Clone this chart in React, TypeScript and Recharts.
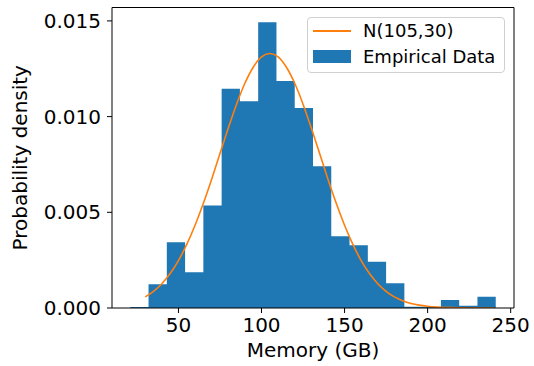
import { ComposedChart, Area, Line, XAxis, YAxis, Legend, ReferenceLine } from "recharts";

// histogram: 20 bins, edges
const binEdges = [21, 32, 43, 54, 65, 76, 87, 98, 109, 120, 131, 142, 153, 164, 175, 186, 197, 208, 219, 230, 241];
const binDensity = [
  0.00005, 0.00124, 0.00343, 0.00187, 0.00535, 0.01146, 0.0108, 0.01493, 0.01186, 0.01045,
  0.0074, 0.00375, 0.00328, 0.00242, 0.00129, 0.00007, 0.00006, 0.00042, 0.00012, 0.00059,
];

// fitted curve N(105,30), sampled every 5 GB
const curveX = [
  30, 35, 40, 45, 50, 55, 60, 65, 70, 75, 80, 85, 90, 95, 100, 105, 110, 115, 120, 125, 130, 135,
  140, 145, 150, 155, 160, 165, 170, 175, 180, 185, 190, 195, 200, 205, 210, 215, 220, 225, 230, 235, 240,
];
const curveY = [
  0.00058, 0.00087, 0.00127, 0.0018, 0.00248, 0.00332, 0.00432, 0.00547, 0.00673, 0.00807, 0.0094,
  0.01065, 0.01174, 0.01258, 0.01312, 0.0133, 0.01312, 0.01258, 0.01174, 0.01065, 0.0094, 0.00807,
  0.00673, 0.00547, 0.00432, 0.00332, 0.00248, 0.0018, 0.00127, 0.00087, 0.00058, 0.00038, 0.00024,
  0.00015, 0.00009, 0.00005, 0.00003, 0.00002, 0.00001, 0, 0, 0, 0,
];

const xTicks = [50, 100, 150, 200, 250];
const yTicks = [0, 0.005, 0.01, 0.015];
const xDomain = [10, 252];
const yDomain = [0, 0.0157];

const BLUE = "#1f77b4";
const ORANGE = "#ff7f0e";
const FONT = "'DejaVu Sans', sans-serif";

type Row = { x: number; hist?: number | null; pdf?: number | null };

function buildRows(): Row[] {
  const byX = new Map<number, Row>();
  const get = (x: number) => {
    if (!byX.has(x)) byX.set(x, { x, hist: null, pdf: null });
    return byX.get(x)!;
  };
  binEdges.forEach((e, i) => {
    get(e).hist = binDensity[Math.min(i, binDensity.length - 1)];
  });
  curveX.forEach((x, i) => {
    get(x).pdf = curveY[i];
  });
  return Array.from(byX.values()).sort((a, b) => a.x - b.x);
}

const rows = buildRows();

function LegendBox({ payload }: any) {
  const items = [...(payload || [])].sort((a: any, b: any) => (a.type === "line" ? -1 : 1) - (b.type === "line" ? -1 : 1));
  return (
    <div
      style={{
        width: 196,
        height: 54,
        border: "1px solid #d0d0d0",
        borderRadius: 4,
        background: "#fff",
        fontFamily: FONT,
        fontSize: 18,
        color: "#000",
      }}
    >
      {items.map((it: any) => (
        <div key={it.value} style={{ display: "flex", alignItems: "center", height: 26 }}>
          <div style={{ width: 38, marginLeft: 5, marginRight: 12, display: "flex", alignItems: "center" }}>
            {it.type === "line" ? (
              <div style={{ width: 38, height: 2, background: ORANGE }} />
            ) : (
              <div style={{ width: 38, height: 13, background: BLUE }} />
            )}
          </div>
          <span>{it.value}</span>
        </div>
      ))}
    </div>
  );
}

function XLabel({ viewBox }: any) {
  const cx = viewBox.x + viewBox.width / 2;
  return (
    <text x={cx} y={357} textAnchor="middle" fontSize={20} fontFamily={FONT} fill="#000">
      Memory (GB)
    </text>
  );
}

function YLabel({ viewBox }: any) {
  const cy = viewBox.y + viewBox.height / 2;
  return (
    <text
      x={27}
      y={cy}
      transform={`rotate(-90, 27, ${cy})`}
      textAnchor="middle"
      fontSize={20}
      fontFamily={FONT}
      fill="#000"
    >
      Probability density
    </text>
  );
}

export default function App() {
  const tick = { fill: "#000", fontSize: 20, fontFamily: FONT };
  return (
    <div style={{ position: "absolute", left: 0, top: 0, background: "#fff" }}>
      <ComposedChart width={534} height={366} data={rows} margin={{ top: 7.5, right: 20, bottom: 0, left: 0 }}>
        <XAxis
          dataKey="x"
          type="number"
          domain={xDomain}
          ticks={xTicks}
          allowDataOverflow
          height={58}
          tick={tick}
          tickSize={5}
          tickMargin={5}
          tickLine={{ stroke: "#000" }}
          axisLine={{ stroke: "#000" }}
          label={<XLabel />}
        />
        <YAxis
          type="number"
          domain={yDomain}
          ticks={yTicks}
          allowDataOverflow
          width={112}
          tick={tick}
          tickSize={5}
          tickMargin={6}
          tickFormatter={(v: number) => v.toFixed(3)}
          tickLine={{ stroke: "#000" }}
          axisLine={{ stroke: "#000" }}
          label={<YLabel />}
        />
        <Area
          dataKey="hist"
          name="Empirical Data"
          type="stepAfter"
          connectNulls
          stroke="none"
          fill={BLUE}
          fillOpacity={1}
          legendType="rect"
          isAnimationActive={false}
        />
        <Line
          dataKey="pdf"
          name="N(105,30)"
          type="monotone"
          connectNulls
          stroke={ORANGE}
          strokeWidth={1.6}
          dot={false}
          legendType="line"
          isAnimationActive={false}
        />
        {/* top and right spines */}
        <ReferenceLine x={xDomain[1]} stroke="#000" />
        <ReferenceLine y={yDomain[1]} stroke="#000" />
        <Legend
          layout="horizontal"
          verticalAlign="middle"
          align="center"
          content={<LegendBox />}
          wrapperStyle={{ left: 307, top: 16.5, width: 198, height: 56 }}
        />
      </ComposedChart>
    </div>
  );
}
